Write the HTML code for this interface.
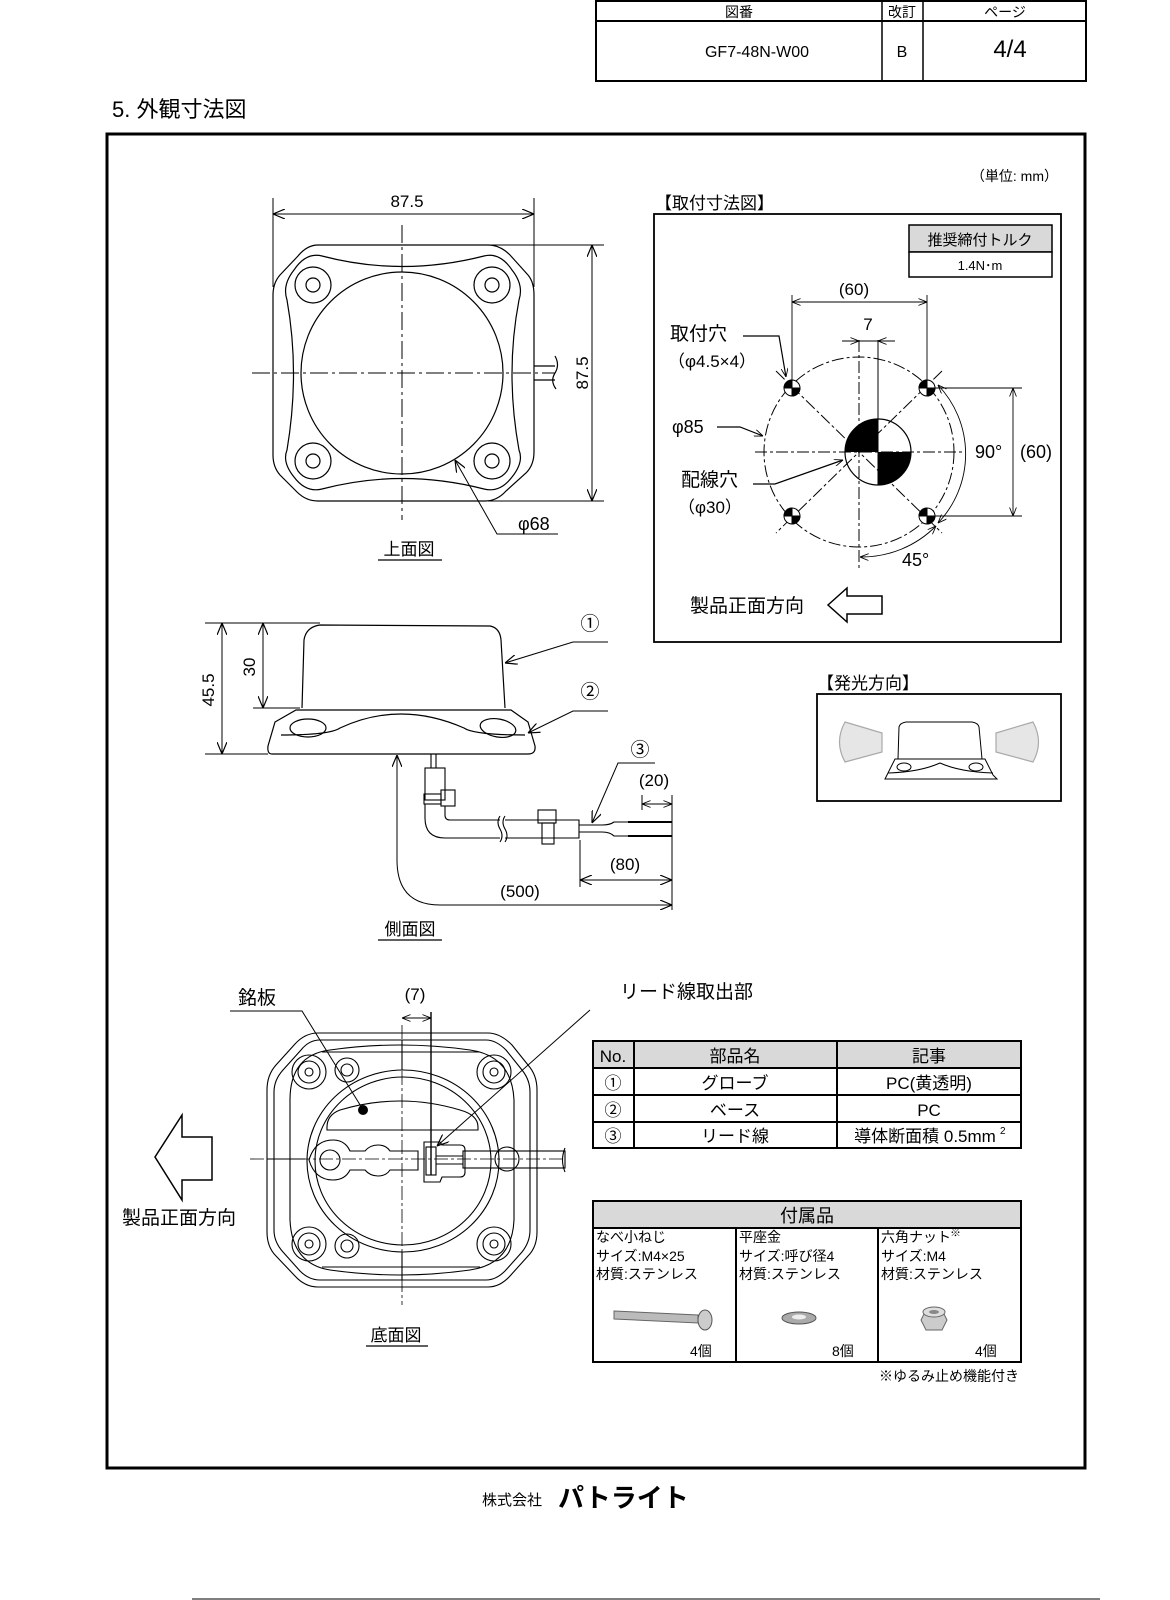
<!DOCTYPE html>
<html><head><meta charset="utf-8"><style>
html,body{margin:0;padding:0;background:#fff;}
svg{display:block;}
text{font-family:"Liberation Sans","Noto Sans CJK JP",sans-serif;fill:#000;}
</style></head><body>
<svg width="1170" height="1600" viewBox="0 0 1170 1600" xmlns="http://www.w3.org/2000/svg">
<defs>
<marker id="a" viewBox="0 0 12 10" refX="12" refY="5" markerWidth="12" markerHeight="10" markerUnits="userSpaceOnUse" orient="auto-start-reverse"><path d="M0,0 L12,5 L0,10" fill="none" stroke="#000" stroke-width="1.2"/></marker>
<marker id="s" viewBox="0 0 10 8" refX="10" refY="4" markerWidth="9" markerHeight="7" markerUnits="userSpaceOnUse" orient="auto-start-reverse"><path d="M0,0 L10,4 L0,8" fill="none" stroke="#000" stroke-width="1"/></marker>
</defs>

<!-- header table -->
<g stroke="#000" fill="none">
<rect x="596" y="1" width="490" height="80" stroke-width="2"/>
<line x1="596" y1="21" x2="1086" y2="21" stroke-width="2"/>
<line x1="882" y1="1" x2="882" y2="81" stroke-width="1.5"/>
<line x1="923" y1="1" x2="923" y2="81" stroke-width="1.5"/>
</g>
<text x="739" y="17" font-size="14" text-anchor="middle">図番</text>
<text x="902" y="17" font-size="14" text-anchor="middle">改訂</text>
<text x="1005" y="17" font-size="14" text-anchor="middle">ページ</text>
<text x="757" y="57" font-size="16" text-anchor="middle">GF7-48N-W00</text>
<text x="902" y="57" font-size="16" text-anchor="middle">B</text>
<text x="1010" y="57" font-size="24" text-anchor="middle">4/4</text>

<text x="112" y="117" font-size="22">5. 外観寸法図</text>

<!-- frame -->
<rect x="107" y="134" width="978" height="1334" fill="none" stroke="#000" stroke-width="3"/>

<text x="1058" y="181" font-size="14" text-anchor="end">（単位: mm）</text>

<!-- TOP VIEW -->
<g fill="none" stroke="#000" stroke-width="1.2">
<path d="M318,245 L488,245 Q500,245 510,255 L528,275 Q534,282 534,295 L534,452 Q534,465 526,473 L506,491 Q497,501 485,501 L318,501 Q306,501 297,492 L280,475 Q273,467 273,455 L273,295 Q273,283 280,275 L298,256 Q307,245 318,245 Z"/>
<path d="M322,256 Q402,277 484,256 Q500,252 512,270 Q524,285 519,300 Q505,373 519,450 Q524,462 512,477 Q500,493 484,489 Q402,468 322,489 Q306,493 294,477 Q282,462 287,450 Q300,373 287,300 Q282,285 294,270 Q306,252 322,256 Z"/>
<circle cx="402" cy="373" r="101"/>
<circle cx="313" cy="285" r="18"/><circle cx="313" cy="285" r="7"/>
<circle cx="492" cy="285" r="18"/><circle cx="492" cy="285" r="7"/>
<circle cx="313" cy="461" r="18"/><circle cx="313" cy="461" r="7"/>
<circle cx="492" cy="461" r="18"/><circle cx="492" cy="461" r="7"/>
<line x1="534" y1="366" x2="555" y2="366"/><line x1="534" y1="380" x2="555" y2="380"/>
<path d="M555,356 Q560,365 555,373 Q550,381 556,389"/>
</g>
<g stroke="#000" stroke-width="1" stroke-dasharray="18,4,3,4" fill="none">
<line x1="402" y1="225" x2="402" y2="520"/>
<line x1="252" y1="373" x2="555" y2="373"/>
</g>
<g stroke="#000" stroke-width="1" fill="none">
<line x1="273" y1="198" x2="273" y2="287"/><line x1="534" y1="198" x2="534" y2="287"/>
<line x1="273" y1="214" x2="534" y2="214" marker-start="url(#a)" marker-end="url(#a)"/>
<line x1="488" y1="245" x2="604" y2="245"/><line x1="488" y1="501" x2="604" y2="501"/>
<line x1="592" y1="245" x2="592" y2="501" marker-start="url(#a)" marker-end="url(#a)"/>
<polyline points="558,534 497,534 455,460" marker-end="url(#a)"/>
</g>
<text x="407" y="207" font-size="17" text-anchor="middle">87.5</text>
<text transform="translate(588,373) rotate(-90)" font-size="17" text-anchor="middle">87.5</text>
<text x="518" y="530" font-size="18">φ68</text>
<text x="409" y="555" font-size="17" text-anchor="middle">上面図</text>
<line x1="378" y1="560" x2="442" y2="560" stroke="#000" stroke-width="1.2"/>

<!-- MOUNT DIAGRAM -->
<text x="655" y="209" font-size="17">【取付寸法図】</text>
<rect x="654" y="214" width="407" height="428" fill="none" stroke="#000" stroke-width="1.8"/>
<rect x="909" y="225" width="143" height="27" fill="#d9d9d9" stroke="#000" stroke-width="1.5"/>
<rect x="909" y="252" width="143" height="25" fill="#fff" stroke="#000" stroke-width="1.5"/>
<text x="980" y="245" font-size="15" text-anchor="middle">推奨締付トルク</text>
<text x="980" y="270" font-size="13" text-anchor="middle">1.4N･m</text>
<g fill="none" stroke="#000" stroke-width="1" stroke-dasharray="12,3,3,3">
<circle cx="859" cy="452" r="95"/>
<line x1="859" y1="340" x2="859" y2="570"/>
<line x1="755" y1="452" x2="965" y2="452"/>
<line x1="776" y1="371" x2="942" y2="533"/>
<line x1="942" y1="371" x2="776" y2="533"/>
</g>
<path d="M845,452 A33,33 0 0 1 878,419 L878,452 Z" fill="#000"/>
<path d="M911,452 A33,33 0 0 1 878,485 L878,452 Z" fill="#000"/>
<circle cx="878" cy="452" r="33" fill="none" stroke="#000" stroke-width="1.2"/>
<line x1="878" y1="340" x2="878" y2="485" stroke="#000" stroke-width="1"/>
<g stroke="#000" stroke-width="1">
<circle cx="792" cy="388" r="8" fill="#fff"/><path d="M784,388 A8,8 0 0 1 792,380 L792,388Z M800,388 A8,8 0 0 1 792,396 L792,388Z" fill="#000"/>
<circle cx="927" cy="388" r="8" fill="#fff"/><path d="M919,388 A8,8 0 0 1 927,380 L927,388Z M935,388 A8,8 0 0 1 927,396 L927,388Z" fill="#000"/>
<circle cx="792" cy="516" r="8" fill="#fff"/><path d="M784,516 A8,8 0 0 1 792,508 L792,516Z M800,516 A8,8 0 0 1 792,524 L792,516Z" fill="#000"/>
<circle cx="927" cy="516" r="8" fill="#fff"/><path d="M919,516 A8,8 0 0 1 927,508 L927,516Z M935,516 A8,8 0 0 1 927,524 L927,516Z" fill="#000"/>
</g>
<g fill="none" stroke="#000" stroke-width="0.9">
<line x1="792" y1="295" x2="792" y2="380"/><line x1="927" y1="295" x2="927" y2="380"/>
<line x1="792" y1="302" x2="927" y2="302" marker-start="url(#s)" marker-end="url(#s)"/>
<line x1="842" y1="341" x2="859" y2="341" marker-end="url(#s)"/>
<line x1="895" y1="341" x2="878" y2="341" marker-end="url(#s)"/>
<line x1="859" y1="341" x2="878" y2="341"/>
<line x1="935" y1="388" x2="1022" y2="388"/><line x1="935" y1="516" x2="1022" y2="516"/>
<line x1="1013" y1="388" x2="1013" y2="516" marker-start="url(#s)" marker-end="url(#s)"/>
<path d="M938,385 A100,100 0 0 1 938,523" marker-start="url(#s)" marker-end="url(#s)"/>
<path d="M860,557 A105,105 0 0 0 936,526" marker-start="url(#s)" marker-end="url(#s)"/>
<polyline points="743,336 779,336 786,377" marker-end="url(#s)" stroke-width="1.2"/>
<polyline points="717,427 740,427 763,436" marker-end="url(#s)" stroke-width="1.2"/>
<polyline points="753,484 775,484 843,460" marker-end="url(#s)" stroke-width="1.2"/>
</g>
<text x="854" y="295" font-size="17" text-anchor="middle">(60)</text>
<text x="868" y="330" font-size="17" text-anchor="middle">7</text>
<text x="670" y="340" font-size="19">取付穴</text>
<text x="668" y="367" font-size="17">（φ4.5×4）</text>
<text x="672" y="433" font-size="18">φ85</text>
<text x="681" y="486" font-size="19">配線穴</text>
<text x="678" y="513" font-size="17">（φ30）</text>
<text x="975" y="458" font-size="18">90°</text>
<text x="1020" y="458" font-size="18">(60)</text>
<text x="902" y="566" font-size="18">45°</text>
<text x="690" y="612" font-size="19">製品正面方向</text>
<path d="M828,605 L847,588 L847,596 L882,596 L882,614 L847,614 L847,622 Z" fill="none" stroke="#000" stroke-width="1.5"/>

<!-- SIDE VIEW -->
<g fill="none" stroke="#000" stroke-width="1.2">
<path d="M302,708 L304,640 Q306,627 320,625 L490,626 Q500,628 501,640 L505,708"/>
<path d="M296,710 L511,710 L528,722 L535,746 Q536,754 528,754 L272,754 Q267,754 268,746 L275,722 Z"/>
<path d="M281,735 Q330,735 340,728 Q400,700 464,728 Q474,735 525,735"/>
<ellipse cx="308" cy="728" rx="18" ry="9"/>
<ellipse cx="498" cy="728" rx="18" ry="9" transform="rotate(10 498 728)"/>
</g>
<g stroke="#000" stroke-width="1" fill="none">
<line x1="205" y1="623" x2="320" y2="623"/>
<line x1="205" y1="754" x2="268" y2="754"/>
<line x1="253" y1="708" x2="300" y2="708"/>
<line x1="222" y1="623" x2="222" y2="754" marker-start="url(#a)" marker-end="url(#a)"/>
<line x1="263" y1="623" x2="263" y2="708" marker-start="url(#a)" marker-end="url(#a)"/>
<polyline points="608,642 573,642 505,663" marker-end="url(#a)"/>
<polyline points="608,711 573,711 528,733" marker-end="url(#a)"/>
<polyline points="655,763 618,763 592,823" marker-end="url(#a)"/>
</g>
<text transform="translate(214,690) rotate(-90)" font-size="17" text-anchor="middle">45.5</text>
<text transform="translate(255,667) rotate(-90)" font-size="17" text-anchor="middle">30</text>
<text x="590" y="630" font-size="19" text-anchor="middle">①</text>
<text x="590" y="698" font-size="19" text-anchor="middle">②</text>
<text x="640" y="756" font-size="19" text-anchor="middle">③</text>
<!-- cable -->
<g fill="none" stroke="#000" stroke-width="1.1">
<line x1="431" y1="754" x2="431" y2="768"/><line x1="436" y1="754" x2="436" y2="768"/>
<rect x="425" y="768" width="20" height="32"/>
<rect x="424" y="794" width="17" height="10"/><rect x="441" y="790" width="14" height="16"/>
<path d="M425,804 L425,818 Q425,838 445,838 L500,838"/>
<path d="M445,806 L445,815 Q445,820 450,820 L500,820"/>
<path d="M500,816 Q496,822 500,829 Q504,836 500,842"/>
<path d="M505,816 Q501,822 505,829 Q509,836 505,842"/>
<path d="M505,820 L579,820 L579,838 L505,838"/>
<rect x="538" y="810" width="18" height="13"/><rect x="542" y="823" width="12" height="21"/>
<line x1="579" y1="825" x2="602" y2="825"/><line x1="579" y1="832" x2="602" y2="832"/>
<path d="M602,825 Q610,825 614,822 L628,822"/>
<path d="M602,832 Q610,832 614,836 L628,836"/>
</g>
<line x1="628" y1="822" x2="672" y2="822" stroke="#000" stroke-width="2"/>
<line x1="628" y1="836" x2="672" y2="836" stroke="#000" stroke-width="2"/>
<g stroke="#000" stroke-width="1" fill="none">
<line x1="642" y1="795" x2="642" y2="810"/><line x1="672" y1="795" x2="672" y2="910"/>
<line x1="642" y1="804" x2="672" y2="804" marker-start="url(#s)" marker-end="url(#s)"/>
<line x1="580" y1="840" x2="580" y2="887"/>
<line x1="580" y1="880" x2="672" y2="880" marker-start="url(#a)" marker-end="url(#a)"/>
<path d="M672,905 L440,905 Q397,905 397,860 L397,755" marker-end="url(#a)" marker-start="url(#a)"/>
</g>
<text x="654" y="786" font-size="17" text-anchor="middle">(20)</text>
<text x="625" y="870" font-size="17" text-anchor="middle">(80)</text>
<text x="520" y="897" font-size="17" text-anchor="middle">(500)</text>
<text x="410" y="935" font-size="17" text-anchor="middle">側面図</text>
<line x1="378" y1="940" x2="442" y2="940" stroke="#000" stroke-width="1.2"/>

<!-- LIGHT DIRECTION -->
<text x="817" y="689" font-size="17">【発光方向】</text>
<rect x="817" y="694" width="244" height="107" fill="none" stroke="#000" stroke-width="1.8"/>
<path d="M845,722 L882,733 L882,752 L845,762 Q834,742 845,722 Z" fill="#e6e6e6" stroke="#aaa" stroke-width="1.2"/>
<path d="M1033,722 L996,733 L996,752 L1033,762 Q1044,742 1033,722 Z" fill="#e6e6e6" stroke="#aaa" stroke-width="1.2"/>
<g fill="none" stroke="#000" stroke-width="1">
<path d="M898,759 L899,727 Q900,723 906,722 L972,722 Q978,723 979,727 L982,759"/>
<path d="M895,759 L985,759 L993,775 L997,779 L885,779 L888,773 Z"/>
<ellipse cx="904" cy="767" rx="7" ry="4"/><ellipse cx="976" cy="767" rx="7" ry="4"/>
<path d="M888,773 Q920,772 940,763 Q960,772 993,773"/>
</g>

<!-- BOTTOM VIEW -->
<g fill="none" stroke="#000" stroke-width="1.1">
<path d="M318,1033 L488,1033 Q500,1033 512,1045 L528,1065 Q537,1075 537,1090 L537,1232 Q537,1247 528,1256 L510,1276 Q500,1287 488,1287 L318,1287 Q305,1287 295,1276 L276,1256 Q267,1247 267,1232 L267,1090 Q267,1075 276,1065 L295,1044 Q305,1033 318,1033 Z"/>
<path d="M320,1040 L486,1040 Q496,1040 506,1050 L522,1070 Q530,1080 530,1092 L530,1230 Q530,1242 522,1252 L505,1271 Q496,1280 486,1280 L320,1280 Q309,1280 300,1271 L283,1252 Q274,1242 274,1230 L274,1092 Q274,1080 283,1070 L301,1050 Q309,1040 320,1040 Z"/>
<path d="M290,1100 Q290,1055 330,1050 Q400,1040 470,1050 Q512,1056 514,1100 L514,1220 Q512,1264 470,1270 Q400,1280 330,1270 Q292,1264 290,1220 Z"/>
<ellipse cx="403" cy="1161" rx="96" ry="91"/>
<ellipse cx="403" cy="1161" rx="88" ry="84"/>
<circle cx="309" cy="1072" r="17"/><circle cx="309" cy="1072" r="11"/><circle cx="309" cy="1072" r="4"/>
<circle cx="494" cy="1072" r="17"/><circle cx="494" cy="1072" r="11"/><circle cx="494" cy="1072" r="4"/>
<circle cx="309" cy="1244" r="17"/><circle cx="309" cy="1244" r="11"/><circle cx="309" cy="1244" r="4"/>
<circle cx="494" cy="1244" r="17"/><circle cx="494" cy="1244" r="11"/><circle cx="494" cy="1244" r="4"/>
<circle cx="347" cy="1070" r="12"/><circle cx="347" cy="1070" r="6"/>
<circle cx="347" cy="1246" r="12"/><circle cx="347" cy="1246" r="6"/>
<path d="M327,1127 Q327,1115 340,1110 Q400,1092 460,1110 Q478,1115 478,1127 L478,1130 L327,1130 Z"/>
<path d="M333,1140 Q315,1140 309,1160 Q315,1180 333,1180 Q345,1180 350,1170 L365,1170 Q370,1176 378,1176 Q386,1176 390,1170 L418,1170 L418,1151 L390,1151 Q386,1145 378,1145 Q370,1145 365,1151 L350,1151 Q345,1140 333,1140 Z"/>
<circle cx="330" cy="1160" r="10"/>
<path d="M424,1142 L440,1142 L442,1145 L460,1145 Q465,1145 465,1150 L465,1172 Q465,1177 460,1177 L442,1177 L440,1182 L424,1182 Z"/>
<rect x="426" y="1147" width="10" height="28"/>
<line x1="436" y1="1156" x2="463" y2="1156"/><line x1="436" y1="1164" x2="463" y2="1164"/>
<rect x="463" y="1151" width="102" height="17"/>
<path d="M565,1148 Q560,1160 565,1172"/>
<circle cx="507" cy="1159" r="12"/>
<line x1="267" y1="1159" x2="305" y2="1159"/>
<line x1="402" y1="1040" x2="402" y2="1070"/><line x1="402" y1="1252" x2="402" y2="1280"/>
<line x1="322" y1="1052" x2="480" y2="1052"/><line x1="322" y1="1267" x2="480" y2="1267"/>
</g>
<g stroke="#000" stroke-width="0.8" stroke-dasharray="14,3,3,3" fill="none">
<line x1="402" y1="1025" x2="402" y2="1305"/>
<line x1="250" y1="1159" x2="565" y2="1159"/>
</g>
<circle cx="363" cy="1110" r="5" fill="#000"/>
<g stroke="#000" stroke-width="1" fill="none">
<polyline points="230,1011 302,1011 362,1108"/>
<line x1="431" y1="1012" x2="431" y2="1175" stroke-width="1.4"/>
<line x1="402" y1="1018" x2="431" y2="1018" marker-start="url(#s)" marker-end="url(#s)"/>
<line x1="590" y1="1010" x2="437" y2="1146" marker-end="url(#a)"/>
<path d="M155,1157 L182,1115 L182,1137 L212,1137 L212,1180 L182,1180 L182,1200 Z" stroke-width="1.5"/>
</g>
<text x="238" y="1004" font-size="19">銘板</text>
<text x="415" y="1000" font-size="17" text-anchor="middle">(7)</text>
<text x="620" y="998" font-size="19">リード線取出部</text>
<text x="122" y="1224" font-size="19">製品正面方向</text>
<text x="396" y="1341" font-size="17" text-anchor="middle">底面図</text>
<line x1="366" y1="1346" x2="428" y2="1346" stroke="#000" stroke-width="1.2"/>

<!-- PARTS TABLE -->
<rect x="593" y="1041" width="428" height="27" fill="#d9d9d9"/>
<g stroke="#000" fill="none" stroke-width="2">
<rect x="593" y="1041" width="428" height="107"/>
<line x1="593" y1="1068" x2="1021" y2="1068"/>
<line x1="593" y1="1095" x2="1021" y2="1095"/>
<line x1="593" y1="1122" x2="1021" y2="1122"/>
<line x1="634" y1="1041" x2="634" y2="1148"/>
<line x1="837" y1="1041" x2="837" y2="1148"/>
</g>
<g font-size="17" text-anchor="middle">
<text x="613" y="1062">No.</text><text x="735" y="1062">部品名</text><text x="929" y="1062">記事</text>
<text x="613" y="1089">①</text><text x="735" y="1089">グローブ</text><text x="929" y="1089">PC(黄透明)</text>
<text x="613" y="1116">②</text><text x="735" y="1116">ベース</text><text x="929" y="1116">PC</text>
<text x="613" y="1142">③</text><text x="735" y="1142">リード線</text><text x="925" y="1142">導体断面積 0.5mm</text>
</g>
<text x="1000" y="1134" font-size="10">2</text>

<!-- ACCESSORIES -->
<rect x="593" y="1201" width="428" height="27" fill="#d9d9d9"/>
<g stroke="#000" fill="none" stroke-width="2">
<rect x="593" y="1201" width="428" height="161"/>
<line x1="593" y1="1228" x2="1021" y2="1228"/>
<line x1="736" y1="1228" x2="736" y2="1362"/>
<line x1="878" y1="1228" x2="878" y2="1362"/>
</g>
<text x="807" y="1222" font-size="18" text-anchor="middle">付属品</text>
<g font-size="14">
<text x="596" y="1242">なべ小ねじ</text><text x="596" y="1261">サイズ:M4×25</text><text x="596" y="1279">材質:ステンレス</text>
<text x="739" y="1242">平座金</text><text x="739" y="1261">サイズ:呼び径4</text><text x="739" y="1279">材質:ステンレス</text>
<text x="881" y="1242">六角ナット</text><text x="881" y="1261">サイズ:M4</text><text x="881" y="1279">材質:ステンレス</text>
<text x="690" y="1356">4個</text><text x="832" y="1356">8個</text><text x="975" y="1356">4個</text>
</g>
<text x="950" y="1236" font-size="11">※</text>
<path d="M614,1311 L698,1315 L698,1323 L614,1319 Z" fill="#bbb" stroke="#666"/>
<ellipse cx="705" cy="1320" rx="7" ry="10" fill="#ccc" stroke="#555"/>
<ellipse cx="799" cy="1318" rx="17" ry="6" fill="#aaa" stroke="#555"/>
<ellipse cx="799" cy="1317" rx="7" ry="2.5" fill="#eee"/>
<path d="M926,1310 L942,1310 L947,1320 L942,1330 L926,1330 L921,1320 Z" fill="#ccc" stroke="#666"/>
<ellipse cx="934" cy="1312" rx="11" ry="5" fill="#ddd" stroke="#666"/>
<ellipse cx="934" cy="1312" rx="5" ry="2" fill="#888"/>
<text x="1019" y="1381" font-size="14" text-anchor="end">※ゆるみ止め機能付き</text>

<!-- footer -->
<text x="482" y="1505" font-size="15" fill="#444">株式会社</text>
<text x="558" y="1507" font-size="26" font-weight="bold" fill="#555">パトライト</text>
<line x1="192" y1="1599" x2="1100" y2="1599" stroke="#555" stroke-width="1.5"/>
</svg>
</body></html>
